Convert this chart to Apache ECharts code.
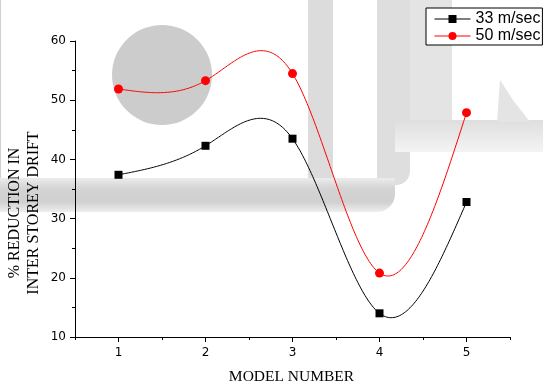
<!DOCTYPE html>
<html>
<head>
<meta charset="utf-8">
<script src="https://cdn.jsdelivr.net/npm/echarts@6/dist/echarts.min.js"></script>
<style>
html,body{margin:0;padding:0;background:#fff;}
#chart{width:543px;height:383px;}
</style>
</head>
<body>
<div id="chart"></div>
<script>
// ---- data ----
var modelNumbers = [1, 2, 3, 4, 5];
var seriesNames = ['33 m/sec', '50 m/sec'];
var values33 = [37.4, 42.3, 43.5, 14.0, 32.8];
var values50 = [51.9, 53.3, 54.5, 20.8, 47.9];
var yTicks = [10, 20, 30, 40, 50, 60];
var xMajorTicks = [1, 2, 3, 4, 5];
var xMinorTicks = [0.5, 1.5, 2.5, 3.5, 4.5, 5.5];
var xTitle = 'MODEL NUMBER';
var yTitle = ['% REDUCTION IN', 'INTER STOREY DRIFT'];

// natural cubic spline second derivatives
function splineM(xs, ys) {
  var n = xs.length, M = new Array(n).fill(0);
  var a = [], b = [], c = [], d = [];
  for (var i = 1; i < n - 1; i++) {
    var h0 = xs[i] - xs[i - 1], h1 = xs[i + 1] - xs[i];
    a.push(h0); b.push(2 * (h0 + h1)); c.push(h1);
    d.push(6 * ((ys[i + 1] - ys[i]) / h1 - (ys[i] - ys[i - 1]) / h0));
  }
  var m = b.length;
  for (var k = 1; k < m; k++) {
    var w = a[k] / b[k - 1];
    b[k] -= w * c[k - 1]; d[k] -= w * d[k - 1];
  }
  var sol = new Array(m);
  sol[m - 1] = d[m - 1] / b[m - 1];
  for (var j = m - 2; j >= 0; j--) sol[j] = (d[j] - c[j] * sol[j + 1]) / b[j];
  for (var q = 0; q < m; q++) M[q + 1] = sol[q];
  return M;
}
function splineAt(xs, ys, M, i, x) {
  var h = xs[i + 1] - xs[i];
  var A = (xs[i + 1] - x) / h, B = (x - xs[i]) / h;
  return A * ys[i] + B * ys[i + 1] + ((A * A * A - A) * M[i] + (B * B * B - B) * M[i + 1]) * h * h / 6;
}
function curveSeries(name, xs, ys, color) {
  var M = splineM(xs, ys);
  return {
    type: 'custom', name: name + ' curve', coordinateSystem: 'cartesian2d',
    silent: true, z: 2,
    data: ys.map(function (v, i) { return [xs[i], v]; }),
    renderItem: function (params, api) {
      var i = params.dataIndex;
      if (i >= xs.length - 1) return null;
      var pts = [];
      var N = 60;
      for (var k = 0; k <= N; k++) {
        var x = xs[i] + (xs[i + 1] - xs[i]) * k / N;
        pts.push(api.coord([x, splineAt(xs, ys, M, i, x)]));
      }
      return { type: 'polyline', shape: { points: pts }, style: { stroke: color, lineWidth: 1, fill: null } };
    }
  };
}
function markerSeries(name, xs, ys, color, symbol, size) {
  return {
    type: 'line', name: name, z: 3, silent: true,
    data: ys.map(function (v, i) { return [xs[i], v]; }),
    symbol: symbol, symbolSize: size, showSymbol: true,
    itemStyle: { color: color, opacity: 1 },
    lineStyle: { color: color, opacity: 0, width: 1 }
  };
}

var chart = echarts.init(document.getElementById('chart'), null, { renderer: 'canvas' });
var tickFont = 'DejaVu Sans';
var option = {
  animation: false,
  backgroundColor: '#ffffff',
  grid: { left: 75, right: 33, top: 41, bottom: 46, containLabel: false },
  legend: {
    data: seriesNames,
    orient: 'vertical',
    left: 426, top: 8,
    padding: [3, 2, 1, 8],
    itemGap: 1,
    itemWidth: 36, itemHeight: 10,
    borderColor: '#000', borderWidth: 1, borderRadius: 0,
    backgroundColor: '#fff',
    lineStyle: { width: 1, opacity: 1 },
    textStyle: { fontFamily: 'Liberation Sans, Arial', fontSize: 16, color: '#000', lineHeight: 16, padding: [0, 0, 0, 0] },
    selectedMode: false
  },
  xAxis: [{
    type: 'value', min: 0.5, max: 5.5,
    axisLine: { show: true, onZero: false, lineStyle: { color: '#000', width: 1 } },
    axisTick: { show: true, length: 5, customValues: xMajorTicks, lineStyle: { color: '#000' } },
    axisLabel: { show: true, customValues: xMajorTicks, margin: 10, fontFamily: tickFont, fontSize: 12, color: '#000' },
    splitLine: { show: false }
  }, {
    type: 'value', min: 0.5, max: 5.5, position: 'bottom',
    axisLine: { show: false, onZero: false },
    axisTick: { show: true, length: 3, customValues: xMinorTicks, lineStyle: { color: '#000' } },
    axisLabel: { show: false },
    splitLine: { show: false }
  }],
  yAxis: {
    type: 'value', min: yTicks[0], max: yTicks[yTicks.length - 1], interval: 10,
    axisLine: { show: true, onZero: false, lineStyle: { color: '#000', width: 1 } },
    axisTick: { show: true, length: 5, lineStyle: { color: '#000' } },
    minorTick: { show: true, splitNumber: 2, length: 3, lineStyle: { color: '#000' } },
    axisLabel: { margin: 9, fontFamily: tickFont, fontSize: 12, color: '#000' },
    splitLine: { show: false }
  },
  graphic: [
    // faint background watermark
    { type: 'rect', z: -10, silent: true, shape: { x: 0, y: 0, width: 1, height: 185 }, style: { fill: '#d0d0d0' } },
    { type: 'circle', z: -10, silent: true, shape: { cx: 162, cy: 75, r: 50 }, style: { fill: '#cccccc' } },
    { type: 'rect', z: -10, silent: true, shape: { x: 308, y: 0, width: 25, height: 190, r: [0, 0, 12, 0] }, style: { fill: '#dcdcdc' } },
    { type: 'rect', z: -10, silent: true, shape: { x: 377, y: 0, width: 33, height: 185, r: [0, 0, 14, 0] }, style: { fill: '#dedede' } },
    { type: 'rect', z: -10, silent: true, shape: { x: 410, y: 0, width: 42, height: 122 }, style: { fill: '#e4e4e4' } },
    { type: 'rect', z: -10, silent: true, shape: { x: 395, y: 120, width: 148, height: 32 },
      style: { fill: new echarts.graphic.LinearGradient(0, 0, 0, 1, [{ offset: 0, color: '#dedede' }, { offset: 1, color: '#f4f4f4' }]) } },
    { type: 'polygon', z: -10, silent: true, shape: { points: [[497, 122], [500, 80], [513, 100], [530, 122]] }, style: { fill: '#e4e4e4' } },
    { type: 'rect', z: -10, silent: true, shape: { x: 0, y: 178, width: 395, height: 34, r: [0, 0, 18, 0] },
      style: { fill: new echarts.graphic.LinearGradient(0, 0, 0, 1, [{ offset: 0, color: '#ececec' }, { offset: 0.3, color: '#d4d4d4' }, { offset: 0.7, color: '#d0d0d0' }, { offset: 1, color: '#eeeeee' }]) } },
    { type: 'text', z: 10, silent: true, x: 291.5, y: 376.5,
      style: { text: xTitle, fontFamily: 'Liberation Serif, Times New Roman', fontSize: 15.5, fill: '#000', textAlign: 'center', textVerticalAlign: 'middle' } },
    { type: 'text', z: 10, silent: true, x: 24, y: 213, rotation: Math.PI / 2,
      style: { text: yTitle.join('\n'), fontFamily: 'Liberation Serif, Times New Roman', fontSize: 16, lineHeight: 19, fill: '#000', textAlign: 'center', textVerticalAlign: 'middle' } }
  ],
  series: [
    curveSeries(seriesNames[0], modelNumbers, values33, '#000000'),
    curveSeries(seriesNames[1], modelNumbers, values50, '#ff0000'),
    markerSeries(seriesNames[0], modelNumbers, values33, '#000000', 'rect', 8),
    markerSeries(seriesNames[1], modelNumbers, values50, '#ff0000', 'circle', 9)
  ]
};
chart.setOption(option);
</script>
</body>
</html>
